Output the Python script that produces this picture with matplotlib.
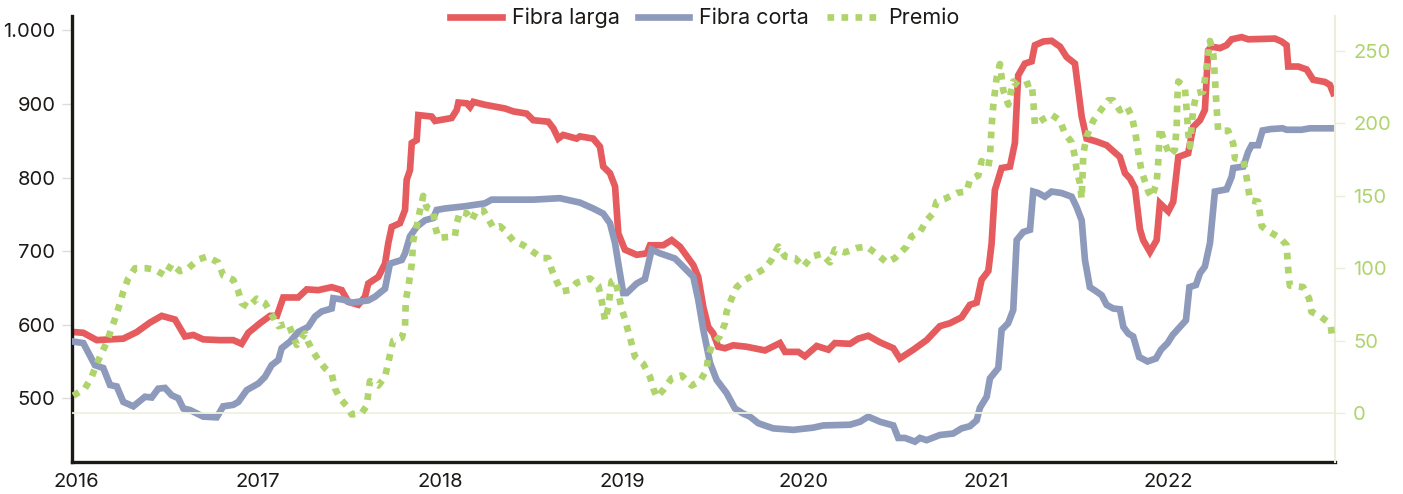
import matplotlib
matplotlib.use("Agg")
import matplotlib.pyplot as plt
from matplotlib.ticker import FuncFormatter

plt.rcParams['font.family'] = ['Inter', 'DejaVu Sans']

# Fibra larga (eje izquierdo)
larga_t = [2015.985, 2016.040, 2016.114, 2016.260, 2016.334, 2016.407, 2016.471, 2016.544,
           2016.599, 2016.645, 2016.699, 2016.791, 2016.864, 2016.910, 2016.947, 2017.011,
           2017.066, 2017.104, 2017.139, 2017.221, 2017.268, 2017.331, 2017.405, 2017.460,
           2017.496, 2017.551, 2017.588, 2017.606, 2017.661, 2017.698, 2017.716, 2017.735,
           2017.780, 2017.808, 2017.817, 2017.835, 2017.845, 2017.872, 2017.881, 2017.954,
           2017.973, 2018.064, 2018.092, 2018.101, 2018.147, 2018.165, 2018.183, 2018.247,
           2018.357, 2018.403, 2018.476, 2018.513, 2018.595, 2018.623, 2018.650, 2018.677,
           2018.751, 2018.769, 2018.842, 2018.879, 2018.897, 2018.934, 2018.962, 2018.980,
           2019.016, 2019.081, 2019.136, 2019.154, 2019.227, 2019.273, 2019.319, 2019.392,
           2019.419, 2019.447, 2019.474, 2019.502, 2019.529, 2019.566, 2019.612, 2019.685,
           2019.786, 2019.868, 2019.896, 2019.969, 2020.005, 2020.070, 2020.134, 2020.170,
           2020.253, 2020.298, 2020.353, 2020.418, 2020.491, 2020.527, 2020.601, 2020.674,
           2020.747, 2020.802, 2020.866, 2020.912, 2020.949, 2020.976, 2021.013, 2021.031,
           2021.049, 2021.086, 2021.132, 2021.159, 2021.177, 2021.214, 2021.251, 2021.269,
           2021.315, 2021.361, 2021.407, 2021.443, 2021.489, 2021.526, 2021.553, 2021.608,
           2021.663, 2021.736, 2021.764, 2021.791, 2021.819, 2021.846, 2021.864, 2021.901,
           2021.938, 2021.956, 2022.002, 2022.029, 2022.057, 2022.111, 2022.139, 2022.176,
           2022.203, 2022.221, 2022.240, 2022.286, 2022.322, 2022.350, 2022.405, 2022.441,
           2022.588, 2022.625, 2022.652, 2022.661, 2022.716, 2022.762, 2022.798, 2022.863,
           2022.890, 2022.908]
larga = [590, 589, 579, 581, 590, 603, 612, 607,
         584, 586, 580, 579, 579, 574, 589, 602,
         612, 612, 637, 637, 648, 647, 651, 647,
         631, 627, 638, 656, 665, 683, 711, 733,
         738, 756, 797, 810, 847, 851, 885, 883,
         877, 881, 892, 902, 901, 896, 903, 899,
         894, 890, 887, 878, 876, 867, 853, 858,
         853, 856, 853, 842, 815, 806, 788, 724,
         702, 695, 697, 708, 708, 715, 706, 681,
         665, 624, 597, 588, 570, 568, 572, 570,
         565, 575, 563, 563, 557, 571, 566, 575,
         574, 581, 585, 576, 568, 554, 566, 579,
         598, 602, 610, 627, 630, 661, 673, 710,
         783, 813, 815, 847, 939, 955, 958, 980,
         985, 986, 978, 964, 955, 883, 853, 849,
         844, 828, 806, 799, 786, 730, 715, 699,
         715, 765, 754, 767, 828, 833, 869, 878,
         892, 973, 978, 976, 980, 988, 991, 988,
         989, 985, 980, 951, 951, 947, 933, 930,
         926, 915]

# Fibra corta (eje izquierdo)
corta_t = [2015.985, 2016.040, 2016.104, 2016.150, 2016.187, 2016.224, 2016.260, 2016.315,
           2016.379, 2016.416, 2016.452, 2016.489, 2016.526, 2016.562, 2016.590, 2016.626,
           2016.699, 2016.773, 2016.809, 2016.864, 2016.892, 2016.938, 2017.002, 2017.038,
           2017.075, 2017.112, 2017.130, 2017.176, 2017.221, 2017.276, 2017.313, 2017.350,
           2017.405, 2017.414, 2017.469, 2017.515, 2017.606, 2017.643, 2017.698, 2017.725,
           2017.790, 2017.808, 2017.835, 2017.872, 2017.918, 2017.963, 2017.982, 2018.027,
           2018.137, 2018.247, 2018.284, 2018.421, 2018.513, 2018.659, 2018.769, 2018.842,
           2018.897, 2018.934, 2018.962, 2018.980, 2019.007, 2019.026, 2019.081, 2019.126,
           2019.163, 2019.209, 2019.291, 2019.328, 2019.392, 2019.419, 2019.447, 2019.484,
           2019.520, 2019.575, 2019.621, 2019.667, 2019.703, 2019.749, 2019.831, 2019.941,
           2020.051, 2020.106, 2020.253, 2020.308, 2020.353, 2020.418, 2020.491, 2020.518,
           2020.555, 2020.610, 2020.637, 2020.674, 2020.747, 2020.820, 2020.866, 2020.912,
           2020.949, 2020.967, 2021.004, 2021.022, 2021.068, 2021.086, 2021.122, 2021.150,
           2021.169, 2021.205, 2021.242, 2021.260, 2021.287, 2021.324, 2021.361, 2021.416,
           2021.471, 2021.498, 2021.526, 2021.544, 2021.571, 2021.608, 2021.636, 2021.663,
           2021.699, 2021.736, 2021.755, 2021.782, 2021.809, 2021.842, 2021.888, 2021.934,
           2021.962, 2021.998, 2022.026, 2022.099, 2022.118, 2022.154, 2022.176, 2022.203,
           2022.231, 2022.258, 2022.322, 2022.350, 2022.359, 2022.414, 2022.441, 2022.460,
           2022.496, 2022.520, 2022.566, 2022.630, 2022.652, 2022.734, 2022.780, 2022.914]
corta = [577, 575, 545, 541, 518, 516, 495, 489,
         502, 501, 513, 514, 504, 500, 486, 484,
         475, 474, 489, 491, 495, 511, 520, 529,
         545, 552, 568, 577, 590, 597, 611, 618,
         622, 636, 634, 630, 633, 638, 649, 683,
         688, 697, 720, 733, 742, 745, 756, 758,
         761, 765, 770, 770, 770, 772, 766, 758,
         751, 738, 711, 683, 643, 643, 656, 662,
         702, 697, 690, 681, 665, 634, 593, 548,
         525, 507, 486, 479, 475, 466, 459, 457,
         460, 463, 464, 468, 475, 468, 463, 446,
         446, 441, 446, 443, 450, 452, 459, 462,
         470, 487, 502, 527, 541, 593, 602, 620,
         715, 726, 729, 781, 779, 774, 781, 779,
         774, 760, 742, 688, 651, 645, 640, 627,
         622, 621, 597, 588, 584, 556, 550, 554,
         566, 575, 586, 606, 651, 654, 670, 679,
         711, 781, 784, 801, 813, 815, 835, 844,
         844, 864, 866, 867, 865, 865, 867, 867]

# Premio (eje derecho)
premio_t = [2015.985, 2016.049, 2016.086, 2016.114, 2016.169, 2016.214, 2016.242, 2016.260,
            2016.287, 2016.324, 2016.388, 2016.434, 2016.489, 2016.526, 2016.571, 2016.617,
            2016.672, 2016.718, 2016.782, 2016.809, 2016.864, 2016.892, 2016.910, 2016.947,
            2016.993, 2017.038, 2017.075, 2017.112, 2017.166, 2017.213, 2017.258, 2017.276,
            2017.304, 2017.331, 2017.368, 2017.405, 2017.423, 2017.451, 2017.487, 2017.515,
            2017.570, 2017.597, 2017.615, 2017.661, 2017.698, 2017.725, 2017.743, 2017.790,
            2017.808, 2017.812, 2017.826, 2017.845, 2017.853, 2017.872, 2017.890, 2017.908,
            2017.927, 2017.963, 2017.973, 2017.991, 2018.082, 2018.092, 2018.110, 2018.147,
            2018.174, 2018.202, 2018.238, 2018.266, 2018.293, 2018.330, 2018.357, 2018.403,
            2018.457, 2018.504, 2018.559, 2018.595, 2018.614, 2018.641, 2018.668, 2018.714,
            2018.751, 2018.824, 2018.870, 2018.888, 2018.907, 2018.925, 2018.943, 2018.962,
            2018.980, 2018.998, 2019.016, 2019.035, 2019.053, 2019.071, 2019.117, 2019.154,
            2019.172, 2019.191, 2019.227, 2019.273, 2019.328, 2019.383, 2019.429, 2019.465,
            2019.474, 2019.495, 2019.538, 2019.566, 2019.575, 2019.602, 2019.630, 2019.676,
            2019.721, 2019.786, 2019.822, 2019.859, 2019.896, 2019.951, 2019.996, 2020.042,
            2020.097, 2020.143, 2020.170, 2020.225, 2020.290, 2020.345, 2020.408, 2020.454,
            2020.500, 2020.564, 2020.591, 2020.637, 2020.674, 2020.710, 2020.729, 2020.775,
            2020.839, 2020.893, 2020.912, 2020.958, 2020.976, 2021.013, 2021.022, 2021.031,
            2021.040, 2021.058, 2021.077, 2021.095, 2021.123, 2021.150, 2021.187, 2021.224,
            2021.251, 2021.260, 2021.269, 2021.315, 2021.361, 2021.407, 2021.434, 2021.471,
            2021.489, 2021.498, 2021.516, 2021.526, 2021.535, 2021.553, 2021.590, 2021.636,
            2021.672, 2021.699, 2021.736, 2021.773, 2021.801, 2021.819, 2021.837, 2021.855,
            2021.892, 2021.911, 2021.938, 2021.947, 2021.956, 2021.984, 2022.011, 2022.038,
            2022.048, 2022.052, 2022.057, 2022.093, 2022.103, 2022.112, 2022.121, 2022.130,
            2022.139, 2022.158, 2022.194, 2022.212, 2022.231, 2022.249, 2022.258, 2022.267,
            2022.276, 2022.331, 2022.359, 2022.368, 2022.414, 2022.432, 2022.451, 2022.496,
            2022.515, 2022.560, 2022.615, 2022.652, 2022.661, 2022.670, 2022.743, 2022.776,
            2022.788, 2022.835, 2022.877, 2022.895, 2022.902, 2022.911]
premio = [12, 17, 25, 34, 49, 65, 76, 84,
          93, 100, 100, 99, 95, 103, 98, 100,
          106, 108, 104, 95, 92, 84, 76, 73,
          79, 76, 68, 60, 62, 47, 55, 49,
          42, 37, 31, 27, 17, 10, 5, -1,
          0, 5, 22, 19, 25, 40, 50, 52,
          60, 78, 87, 103, 119, 129, 140, 150,
          142, 140, 129, 121, 122, 131, 139, 138,
          133, 140, 140, 134, 128, 129, 126, 119,
          116, 112, 107, 107, 99, 91, 84, 85,
          90, 93, 88, 78, 64, 73, 91, 92,
          83, 72, 65, 56, 48, 39, 34, 25,
          17, 11, 16, 24, 26, 19, 22, 30,
          39, 47, 53, 62, 70, 79, 87, 92,
          95, 100, 106, 115, 108, 107, 101, 108,
          110, 104, 113, 111, 114, 115, 109, 104,
          107, 115, 122, 125, 133, 138, 146, 148,
          152, 153, 161, 164, 174, 170, 177, 198,
          212, 231, 241, 223, 213, 229, 225, 227,
          228, 216, 199, 203, 206, 202, 193, 187,
          177, 168, 159, 148, 179, 191, 202, 210,
          216, 216, 209, 212, 205, 195, 180, 167,
          153, 149, 159, 174, 197, 186, 178, 182,
          198, 218, 229, 225, 209, 193, 184, 198,
          210, 221, 222, 239, 257, 248, 232, 212,
          195, 195, 186, 176, 175, 163, 147, 146,
          129, 125, 121, 116, 99, 88, 87, 79,
          70, 67, 63, 60, 53, 50]

years = [2016, 2017, 2018, 2019, 2020, 2021, 2022]
left_ticks = [500, 600, 700, 800, 900, 1000]
right_ticks = [0, 50, 100, 150, 200, 250]

RED = '#E65B5D'
BLUE = '#8E9ABB'
GREEN = '#AED46B'
INK = '#1C1917'

fig = plt.figure(figsize=(14.03, 4.94), dpi=100)
ax = fig.add_axes([72 / 1403, 1 - 462 / 494, (1335 - 72) / 1403, (462 - 16) / 494])
ax2 = ax.twinx()

ax.plot(larga_t, larga, color=RED, lw=4.8, solid_joinstyle='miter', label='Fibra larga', zorder=2)
ax.plot(corta_t, corta, color=BLUE, lw=4.8, solid_joinstyle='miter', label='Fibra corta', zorder=3)
ax2.axhline(0, color='#EEF2DF', lw=1.3, zorder=0)
ax2.plot(premio_t, premio, color=GREEN, lw=4.8, linestyle=(0, (1, 1.1)),
         dash_capstyle='butt', label='Premio', zorder=3)

ax.set_xlim(2015.978, 2022.918)
ax.set_ylim(413.3, 1019.7)
ax2.set_ylim(-33.8, 274.2)

ax.set_xticks(years)
ax.set_xticklabels([str(y) for y in years])
ax.set_yticks(left_ticks)
ax.yaxis.set_major_formatter(FuncFormatter(lambda v, p: f"{int(v):,}".replace(',', '.')))
ax2.set_yticks(right_ticks)

for s in ['top', 'right']:
    ax.spines[s].set_visible(False)
for s in ['left', 'bottom']:
    ax.spines[s].set_color(INK)
    ax.spines[s].set_linewidth(2.4)
for s in ['top', 'left', 'bottom']:
    ax2.spines[s].set_visible(False)
ax2.spines['right'].set_color('#ECEEDA')
ax2.spines['right'].set_linewidth(1.5)

ax.tick_params(axis='x', length=0, pad=8, labelsize=14.5, labelcolor=INK)
ax.tick_params(axis='y', length=7, width=1, color='#DCDCDC', pad=5, labelsize=14.5, labelcolor=INK)
ax2.tick_params(axis='y', length=7, width=1, color='#ECEEDA', pad=6, labelsize=14.5, labelcolor=GREEN)

handles = ax.get_lines() + [ax2.get_lines()[-1]]
fig.legend(handles=handles, labels=[h.get_label() for h in handles], loc='center',
           bbox_to_anchor=(705 / 1403, 1 - 18 / 494), ncol=3, frameon=False,
           fontsize=15.5, handlelength=2.4, handletextpad=0.45, columnspacing=0.85,
           labelcolor=INK)

fig.savefig('out.png', dpi=100)
